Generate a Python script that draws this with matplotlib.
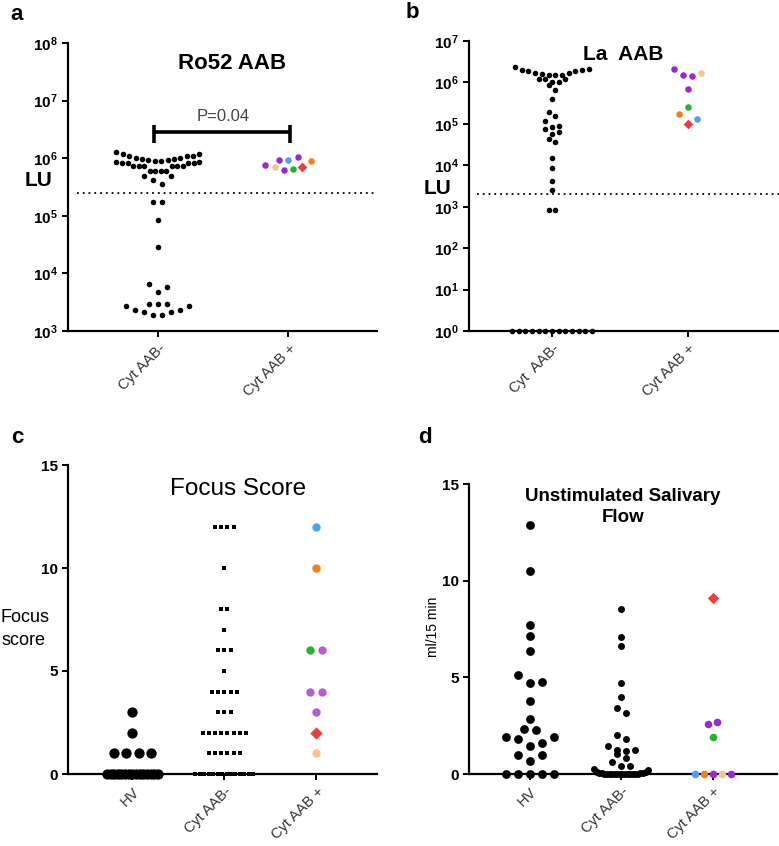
import numpy as np
import matplotlib
matplotlib.use("Agg")
import matplotlib.pyplot as plt
from matplotlib.ticker import LogLocator, LogFormatterSciNotation, NullLocator

plt.rcParams['font.family'] = ['Liberation Sans', 'DejaVu Sans']
plt.rcParams['mathtext.fontset'] = 'custom'
plt.rcParams['mathtext.rm'] = 'Liberation Sans:bold'
plt.rcParams['mathtext.bf'] = 'Liberation Sans:bold'
plt.rcParams['mathtext.it'] = 'Liberation Sans:bold'

# ---------------- data ----------------
cats2 = ["Cyt AAB-", "Cyt AAB +"]
cats2b = ["Cyt  AAB-", "Cyt AAB +"]
cats3 = ["HV", "Cyt AAB-", "Cyt AAB +"]

PURPLE = '#9b27d6'; PEACH = '#fcc28c'; BLUE = '#4e9ff5'
GREEN = '#1fb82a'; ORANGE = '#fb7d13'; RED = '#ee3b3b'; PURPLE2 = '#b55ddb'

# Panel a: Ro52 AAB (LU)
ro52_neg = [1.3e6, 1.19e6, 1.19e6, 1.1e6, 1.1e6, 1.1e6,
            1.0e6, 9.6e5, 9.2e5, 8.9e5, 8.6e5, 8.3e5, 8.1e5, 8.1e5, 8.3e5, 8.6e5, 8.9e5, 9.2e5, 9.6e5, 1.0e6,
            7.2e5, 7.2e5, 7.2e5, 7.2e5, 7.2e5, 7.2e5, 5.9e5, 5.9e5, 5.9e5, 5.9e5,
            4.9e5, 4.9e5, 4.2e5, 3.6e5, 1.72e5, 1.72e5, 8.5e4, 2.9e4,
            6.6e3, 5.9e3, 4.7e3, 2.96e3, 2.96e3, 2.96e3,
            2.75e3, 2.75e3, 2.35e3, 2.35e3, 2.15e3, 2.15e3, 1.9e3, 1.9e3]
ro52_pos = [7.5e5, 7.0e5, 9.3e5, 9.3e5, 1.07e6, 6.3e5, 6.5e5, 7.1e5, 9.0e5]
ro52_pos_colors = [PURPLE, PEACH, BLUE, PURPLE, PURPLE, PURPLE, GREEN, RED, ORANGE]
ro52_pos_markers = ['o', 'o', 'o', 'o', 'o', 'o', 'o', 'D', 'o']
ro52_cutoff = 2.5e5
ro52_p_text = "P=0.04"

# Panel b: La AAB (LU)
la_neg = [2.15e6, 1.95e6, 1.9e6, 1.7e6, 1.55e6, 1.55e6, 1.55e6, 1.7e6, 1.9e6, 2.0e6, 2.3e6, 1.6e6,
          1.24e6, 1.24e6, 1.2e6, 1.0e6, 1.0e6, 8.5e5, 6.5e5, 3.9e5,
          1.9e5, 1.55e5, 1.17e5, 8.9e4, 8.5e4, 7.4e4, 6.4e4, 5.6e4, 4.2e4, 3.6e4,
          1.53e4, 8.8e3, 4.2e3, 2.6e3, 8.5e2, 8.5e2] + [1.0] * 13
la_pos = [2.15e6, 1.49e6, 1.4e6, 1.7e6, 7.1e5, 2.6e5, 1.7e5, 1.3e5, 1.0e5]
la_pos_colors = [PURPLE, PURPLE, PURPLE, PEACH, PURPLE, GREEN, ORANGE, BLUE, RED]
la_pos_markers = ['o', 'o', 'o', 'o', 'o', 'o', 'o', 'o', 'D']
la_cutoff = 2.0e3

# Panel c: Focus score
fs_hv = [3, 2, 1, 1, 1, 1] + [0] * 15
fs_neg = [12] * 4 + [10] + [8] * 2 + [7] + [6] * 3 + [5] + [4] * 5 + [3] * 3 + [2] * 8 + [1] * 6 + [0] * 14
fs_pos = [12, 10, 6, 6, 4, 4, 3, 2, 1]
fs_pos_colors = [BLUE, ORANGE, PURPLE2, GREEN, PURPLE2, PURPLE2, PURPLE2, RED, PEACH]
fs_pos_markers = ['o', 'o', 'o', 'o', 'o', 'o', 'o', 'D', 'o']

# Panel d: Unstimulated salivary flow (ml/15 min)
usf_hv = [12.9, 10.48, 7.72, 7.16, 6.38, 5.14, 4.76, 4.71, 3.76, 2.84, 2.33, 2.29,
          1.91, 1.81, 1.91, 1.6, 1.47, 1.0, 1.0, 0.66, 0, 0, 0, 0, 0]
usf_neg = [8.55, 7.07, 6.64, 4.71, 3.97, 3.41, 3.16, 2.03, 1.81, 1.26, 1.17, 1.26, 1.43, 1.03,
           0.83, 0.6, 0.43, 0.43, 0.28, 0.2,
           0.1, 0.08, 0.06, 0.05, 0.04, 0.03, 0.02, 0.02, 0.01, 0.01,
           0, 0, 0, 0, 0, 0, 0, 0, 0, 0]
usf_pos = [0, 0, 0, 0, 0, 2.59, 2.67, 1.91, 9.1]
usf_pos_colors = [PURPLE, ORANGE, PEACH, BLUE, PURPLE, PURPLE, PURPLE, GREEN, RED]
usf_pos_markers = ['o', 'o', 'o', 'o', 'o', 'o', 'o', 'o', 'D']

# ---------------- helpers ----------------
W, H = 779, 846
fig = plt.figure(figsize=(W / 100, H / 100), dpi=100)


def px_axes(l, r, t, b):
    return fig.add_axes([l / W, 1 - b / H, (r - l) / W, (b - t) / H])


def scatter_layout(ax, x0, vals, spacing_px, bin_px, max_w_px, right_first=True):
    vals = np.asarray(vals, float)
    pts = np.column_stack([np.full(len(vals), x0), vals])
    yd = ax.transData.transform(pts)[:, 1]
    order = np.argsort(yd, kind='stable')
    bins, cur, start = [], [order[0]], yd[order[0]]
    for i in order[1:]:
        if yd[i] - start <= bin_px:
            cur.append(i)
        else:
            bins.append(cur)
            cur, start = [i], yd[i]
    bins.append(cur)
    off = np.zeros(len(vals))
    sgn = -1 if right_first else 1
    for b in bins:
        n = len(b)
        s = spacing_px if (n - 1) * spacing_px <= max_w_px else max_w_px / max(n - 1, 1)
        pos = [(k - (n - 1) / 2) * s for k in range(n)]
        slots = sorted(range(n), key=lambda k: (abs(k - (n - 1) / 2), sgn * k))
        for m, sl in zip(b, slots):
            off[m] = pos[sl]
    x0_, x1_ = ax.get_xlim()
    return x0 + off * (x1_ - x0_) / ax.bbox.width


def draw_group(ax, x0, vals, colors, markers, size, spacing_px, bin_px, max_w_px, right_first=True):
    xs = scatter_layout(ax, x0, vals, spacing_px, bin_px, max_w_px, right_first)
    vals = np.asarray(vals, float)
    if isinstance(colors, str):
        colors = [colors] * len(vals)
    if isinstance(markers, str):
        markers = [markers] * len(vals)
    for xx, vv, cc, mm in zip(xs, vals, colors, markers):
        s = size * 1.1 if mm == 'D' else size
        ax.scatter([xx], [vv], s=s, c=cc, marker=mm, linewidths=0, clip_on=False, zorder=3)


def style(ax):
    for sp in ['top', 'right']:
        ax.spines[sp].set_visible(False)
    for sp in ['left', 'bottom']:
        ax.spines[sp].set_linewidth(1.6)
    ax.tick_params(axis='both', which='major', width=1.4, length=4, direction='out')
    ax.tick_params(axis='y', labelsize=11)
    ax.tick_params(axis='x', labelsize=10.5, labelcolor='#333333')
    for lab in ax.get_yticklabels():
        lab.set_fontweight('bold')


# ---------------- panel a ----------------
axa = px_axes(68, 377, 43, 331)
axa.set_yscale('log')
axa.set_ylim(1e3, 1e8)
axa.set_xlim(-0.69, 1.68)
axa.yaxis.set_major_locator(LogLocator(base=10, numticks=10))
axa.yaxis.set_minor_locator(NullLocator())
axa.yaxis.set_major_formatter(LogFormatterSciNotation())
axa.set_xticks([0, 1])
axa.set_xticklabels(cats2, rotation=45, ha='right', rotation_mode='anchor')
style(axa)
draw_group(axa, 0, ro52_neg, 'black', 'o', 16, 9, 9.5, 83)
draw_group(axa, 1, ro52_pos, ro52_pos_colors, ro52_pos_markers, 22, 9.2, 9.5, 83, right_first=False)
axa.plot([-0.62, 1.68], [ro52_cutoff] * 2, color='black', lw=1.3, ls=(0, (1, 2.2)), zorder=1)
axa.plot([-0.03, 1.015], [2.8e6, 2.8e6], color='black', lw=2.6, solid_capstyle='butt')
axa.plot([-0.03, -0.03], [1.8e6, 3.8e6], color='black', lw=2.6, solid_capstyle='butt')
axa.plot([1.015, 1.015], [1.8e6, 3.8e6], color='black', lw=2.6, solid_capstyle='butt')
axa.text(0.5, 4.0e6, ro52_p_text, ha='center', va='bottom', fontsize=12, color='#444444')
axa.text(0.53, 0.93, "Ro52 AAB", transform=axa.transAxes, ha='center', va='center',
         fontsize=16, fontweight='bold')
fig.text(38 / W, 1 - 181 / H, "LU", ha='center', va='center', fontsize=15, fontweight='bold')

# ---------------- panel b ----------------
axb = px_axes(469, 779, 41, 331)
axb.set_yscale('log')
axb.set_ylim(1e0, 1e7)
axb.set_xlim(-0.61, 1.67)
axb.yaxis.set_major_locator(LogLocator(base=10, numticks=10))
axb.yaxis.set_minor_locator(NullLocator())
axb.yaxis.set_major_formatter(LogFormatterSciNotation())
axb.set_xticks([0, 1])
axb.set_xticklabels(cats2b, rotation=45, ha='right', rotation_mode='anchor')
style(axb)
draw_group(axb, 0, la_neg, 'black', 'o', 16, 6.7, 7.5, 80)
draw_group(axb, 1, la_pos, la_pos_colors, la_pos_markers, 22, 9, 12, 80)
axb.plot([-0.55, 1.67], [la_cutoff] * 2, color='black', lw=1.3, ls=(0, (1, 2.2)), zorder=1)
fig.text(623 / W, 1 - 55 / H, "La  AAB", ha='center', va='center', fontsize=15, fontweight='bold')
fig.text(437 / W, 1 - 188 / H, "LU", ha='center', va='center', fontsize=15, fontweight='bold')

# ---------------- panel c ----------------
axc = px_axes(68, 377, 465, 774)
axc.set_ylim(0, 15)
axc.set_xlim(-0.70, 2.66)
axc.set_yticks([0, 5, 10, 15])
axc.set_xticks([0, 1, 2])
axc.set_xticklabels(cats3, rotation=45, ha='right', rotation_mode='anchor')
style(axc)
draw_group(axc, 0, fs_hv, 'black', 'o', 55, 12.5, 9, 51)
draw_group(axc, 1, fs_neg, 'black', 's', 10, 6.2, 9, 58)
draw_group(axc, 2, fs_pos, fs_pos_colors, fs_pos_markers, 36, 12, 9, 60)
fig.text(238 / W, 1 - 489 / H, "Focus Score", ha='center', va='center', fontsize=17.5)
fig.text(1 / W, 1 - 629 / H, "Focus\nscore", ha='left', va='center', fontsize=13, linespacing=1.4)

# ---------------- panel d ----------------
axd = px_axes(469, 777, 484, 774)
axd.set_ylim(0, 15)
axd.set_xlim(-0.66, 2.7)
axd.set_yticks([0, 5, 10, 15])
axd.set_xticks([0, 1, 2])
axd.set_xticklabels(cats3, rotation=45, ha='right', rotation_mode='anchor')
style(axd)
draw_group(axd, 0, usf_hv, 'black', 'o', 40, 12, 9, 60)
draw_group(axd, 1, usf_neg, 'black', 'o', 25, 9, 5.5, 54)
draw_group(axd, 2, usf_pos, usf_pos_colors, usf_pos_markers, 30, 9, 9, 60, right_first=False)
fig.text(623 / W, 1 - 507 / H, "Unstimulated Salivary\nFlow", ha='center', va='center',
         fontsize=13.5, fontweight='bold', linespacing=1.25)
fig.text(433 / W, 1 - 627 / H, "ml/15 min", ha='center', va='center', fontsize=10, rotation=90)

# panel letters
for lbl, x, y in [('a', 17, 14), ('b', 412, 12), ('c', 17, 437), ('d', 425, 437)]:
    fig.text(x / W, 1 - y / H, lbl, ha='center', va='center', fontsize=16, fontweight='bold')

fig.savefig('out.png', dpi=100)
